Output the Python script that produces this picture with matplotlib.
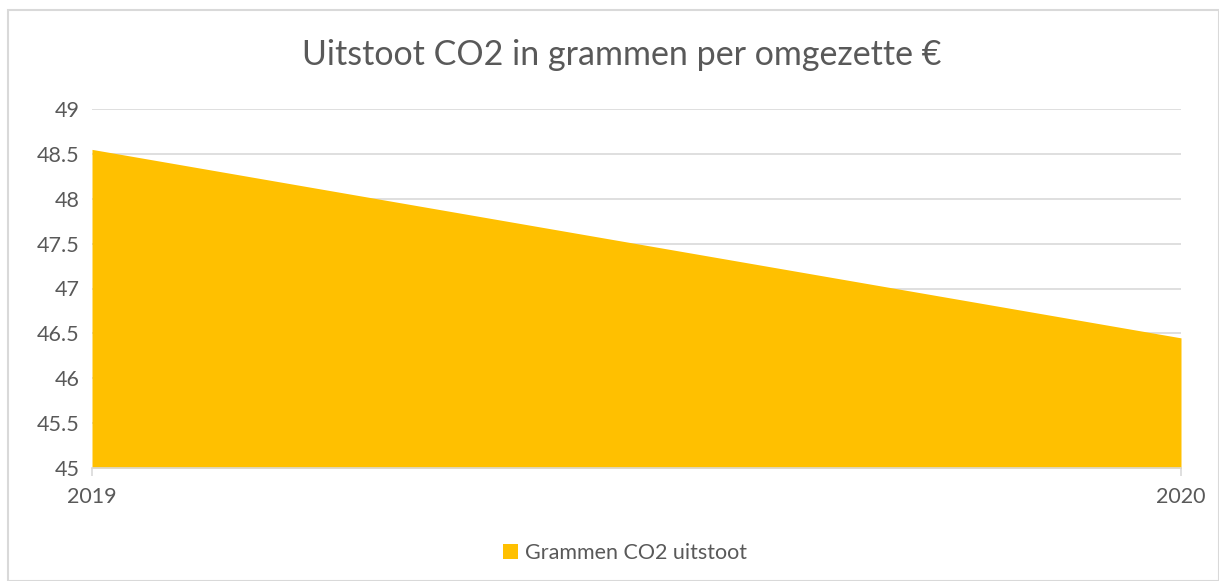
import matplotlib
matplotlib.use("Agg")
import matplotlib.pyplot as plt
from matplotlib.patches import Rectangle

years = ["2019", "2020"]
values = [48.55, 46.45]
yticks = [45, 45.5, 46, 46.5, 47, 47.5, 48, 48.5, 49]
title = "Uitstoot CO2 in grammen per omgezette €"
series_name = "Grammen CO2 uitstoot"

plt.rcParams['font.family'] = ['Lato', 'DejaVu Sans']
W, H = 1219, 581
fig = plt.figure(figsize=(W/100, H/100), dpi=100)
ax = fig.add_axes([92/W, 1-468/H, (1181-92)/W, (468-109)/H])

x = list(range(len(years)))
ax.fill_between(x, 45, values, color="#FFC000", lw=0, label=series_name, zorder=2)
ax.set_xlim(0, 1)
ax.set_ylim(45, 49)
ax.set_yticks(yticks)
ax.set_yticklabels([f"{v:g}" for v in yticks])
ax.set_xticks(x)
ax.set_xticklabels(years)
ax.grid(axis='y', color="#d9d9d9", lw=1.2, zorder=0)
for s in ["top", "right", "left"]:
    ax.spines[s].set_visible(False)
ax.spines["bottom"].set_color("#d9d9d9")
ax.spines["bottom"].set_linewidth(1.2)
ax.tick_params(axis='y', length=0, pad=9, labelsize=15.5, labelcolor="#595959")
ax.tick_params(axis='x', length=6, color="#d9d9d9", width=1.2, pad=8, labelsize=15.5, labelcolor="#595959")
ax.set_axisbelow(True)

fig.text(622/W, 1-55/H, title, ha='center', va='center', fontsize=24.5, color="#595959")
fig.legend(loc='center', bbox_to_anchor=(625/W, 1-553/H), frameon=False, fontsize=15.5,
           labelcolor="#595959", handlelength=0.7, handleheight=0.7, handletextpad=0.3)

fig.patches.append(Rectangle((8/W, 0), 1-8/W, 1-10/H, transform=fig.transFigure,
                             fill=False, edgecolor="#d9d9d9", lw=1.5))
fig.savefig("out.png", dpi=100)
